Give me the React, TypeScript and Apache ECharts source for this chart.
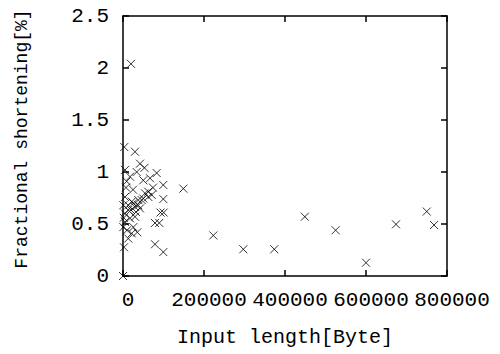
import React, { useEffect, useRef } from "react";
import * as echarts from "echarts";

const xTickValues = [0, 200000, 400000, 600000, 800000];
const yTickValues = [0, 0.5, 1, 1.5, 2, 2.5];

const inputLength = [
  19750, 3200, 29600, 42000, 53000, 83200, 99500, 149000, 99500, 92600,
  100500, 79000, 89600, 79000, 99500, 223000, 297000, 373500, 449000, 525000,
  600000, 674000, 750000, 768000, 0, 2500, 13000, 21500, 35300, 25400,
  5000, 17300, 29600, 5000, 13000, 25400, 37800, 46200, 54300, 62500,
  70900, 50100, 5000, 9100, 17300, 5000, 33800, 21500, 13000, 29600,
  42000, 800, 800, 50100, 62500, 37800, 74000, 66700, 24700, 10000,
  19750, 32000, 7400, 2000,
];
const fractionalShortening = [
  2.04, 1.24, 1.195, 1.08, 1.04, 0.99, 0.875, 0.84, 0.74, 0.61,
  0.61, 0.51, 0.51, 0.305, 0.23, 0.39, 0.257, 0.257, 0.57, 0.44,
  0.128, 0.497, 0.62, 0.49, 0.0, 0.276, 0.36, 0.41, 0.42, 0.47,
  0.52, 0.555, 0.57, 0.6, 0.635, 0.7, 0.68, 0.73, 0.795, 0.81,
  0.78, 0.92, 0.76, 0.91, 0.955, 1.02, 1.0, 0.715, 0.68, 0.665,
  0.65, 0.68, 0.47, 0.745, 0.76, 0.73, 0.85, 0.94, 0.83, 0.44,
  0.635, 0.615, 0.85, 0.56,
];

const FONT = "Liberation Mono";

export default function App() {
  const ref = useRef<HTMLDivElement>(null);
  useEffect(() => {
    if (!ref.current) return;
    const chart = echarts.init(ref.current, undefined, { renderer: "svg" });
    const data = inputLength.map((x, i) => [x, fractionalShortening[i]]);
    const axisLine = { show: true, onZero: false, lineStyle: { color: "#000", width: 1.5 } };
    const axisTick = { show: true, inside: true, length: 6, lineStyle: { color: "#000", width: 1.5 } };
    chart.setOption({
      animation: false,
      backgroundColor: "#fff",
      grid: { left: 123, right: 53, top: 16, bottom: 78, containLabel: false },
      xAxis: [
        {
          type: "value",
          position: "bottom",
          min: 0,
          max: 800000,
          interval: 200000,
          axisLine,
          axisTick,
          splitLine: { show: false },
          axisLabel: {
            color: "#000",
            fontFamily: FONT,
            fontSize: 21,
            margin: 14,
            padding: [0, 0, 0, 10],
            formatter: (v: number) => String(xTickValues.find((t) => t === v) ?? v),
          },
          name: "Input length[Byte]",
          nameLocation: "middle",
          nameGap: 51,
          nameTextStyle: { color: "#000", fontFamily: FONT, fontSize: 20 },
        },
        {
          type: "value",
          position: "top",
          min: 0,
          max: 800000,
          interval: 200000,
          axisLine,
          axisTick,
          axisLabel: { show: false },
          splitLine: { show: false },
        },
      ],
      yAxis: [
        {
          type: "value",
          position: "left",
          min: 0,
          max: 2.5,
          interval: 0.5,
          axisLine,
          axisTick,
          splitLine: { show: false },
          axisLabel: {
            color: "#000",
            fontFamily: FONT,
            fontSize: 21,
            margin: 14,
            formatter: (v: number) => String(yTickValues.find((t) => Math.abs(t - v) < 1e-9) ?? v),
          },
          name: "Fractional shortening[%]",
          nameLocation: "middle",
          nameGap: 92,
          nameTextStyle: { color: "#000", fontFamily: FONT, fontSize: 18, padding: [0, 0, 0, 14] },
        },
        {
          type: "value",
          position: "right",
          min: 0,
          max: 2.5,
          interval: 0.5,
          axisLine,
          axisTick,
          axisLabel: { show: false },
          splitLine: { show: false },
        },
      ],
      series: [
        {
          type: "scatter",
          xAxisIndex: 0,
          yAxisIndex: 0,
          data,
          clip: false,
          symbol: "path://M0 0L8 8M8 0L0 8",
          symbolSize: 8,
          itemStyle: { color: "rgba(0,0,0,0)", borderColor: "#000", borderWidth: 1 },
          emphasis: { disabled: true },
        },
      ],
    });
    return () => chart.dispose();
  }, []);
  return (
    <div
      ref={ref}
      style={{ position: "fixed", left: 0, top: 0, width: 500, height: 354, background: "#fff" }}
    />
  );
}
